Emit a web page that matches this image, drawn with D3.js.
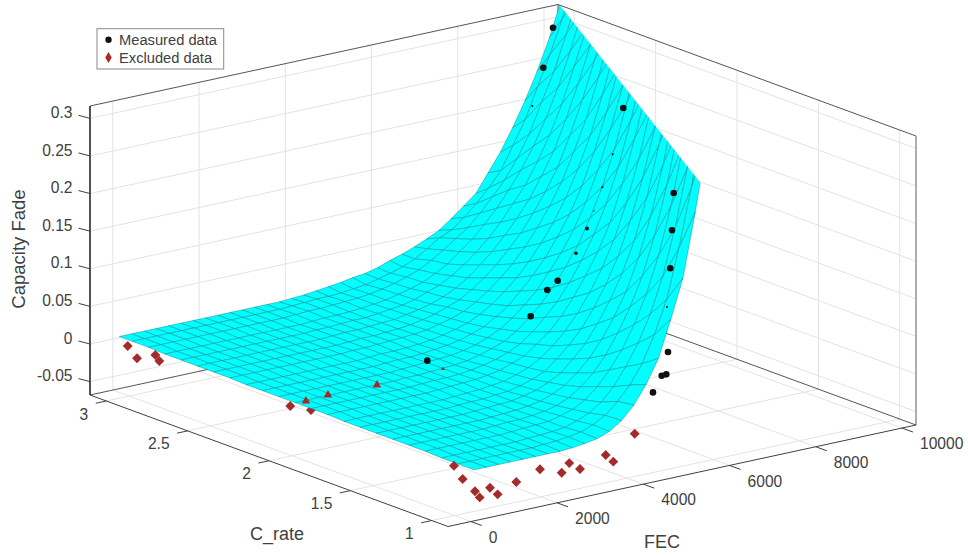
<!DOCTYPE html>
<html>
<head>
<meta charset="utf-8">
<script src="https://cdn.jsdelivr.net/npm/d3@7"></script>
<style>
  html, body { margin: 0; padding: 0; background: #fff; }
  text { font-family: "Liberation Sans", Arial, sans-serif; fill: #404040; }
</style>
</head>
<body>
<svg id="chart" width="968" height="556"></svg>
<script>
// axis limits and ticks
const fecLim = [-530, 10325];
const crateLim = [0.9, 3.1];
const fadeLim = [-0.0678, 0.3164];
const fecTicks = [0, 2000, 4000, 6000, 8000, 10000];
const crateTicks = [1, 1.5, 2, 2.5, 3];
const crateTickLabels = ["1", "1.5", "2", "2.5", "3"];
const fadeTicks = [-0.05, 0, 0.05, 0.1, 0.15, 0.2, 0.25, 0.3];
const fadeTickLabels = ["-0.05", "0", "0.05", "0.1", "0.15", "0.2", "0.25", "0.3"];

// surface: one column per C_rate, one entry per FEC row
const surfaceFec = [75, 360, 645, 930, 1215, 1500, 1785, 2070, 2355, 2640, 2925, 3210, 3495, 3780, 4065, 4350, 4635, 4920, 5205, 5490, 5775, 6060, 6345, 6630, 6915, 7200, 7485, 7770, 8055, 8340, 8625, 8910, 9195, 9480, 9765, 10050, 10335];
const surfaceCrate = [0.9, 1.0, 1.1, 1.2, 1.3, 1.4, 1.5, 1.6, 1.7, 1.8, 1.9, 2.0, 2.1, 2.2, 2.3, 2.4, 2.5, 2.6, 2.7, 2.8, 2.9, 3.0, 3.08];
const surfaceFade = [
  [0,0,0,0,0,0,0,0,.001,.003,.006,.012,.023,.040,.064,.095,.143,.195,.279,.374,.487,.62],
  [0,0,0,0,0,0,0,.001,.002,.004,.007,.013,.022,.037,.055,.080,.115,.158,.223,.299,.391,.502,.63],
  [0,0,0,0,0,0,0,.001,.002,.003,.005,.010,.017,.028,.045,.068,.096,.131,.177,.238,.314,.406,.516,.64],
  [.001,.001,.001,.001,.001,.001,.001,.002,.003,.004,.005,.009,.014,.023,.037,.056,.079,.109,.146,.194,.256,.334,.424,.53],
  [.001,.001,.001,.001,.001,.001,.001,.002,.003,.003,.005,.007,.011,.018,.029,.044,.064,.090,.121,.159,.209,.273,.349,.44,.54],
  [.001,.001,.001,.001,.001,.001,.001,.001,.002,.003,.004,.006,.009,.015,.023,.036,.052,.073,.099,.130,.171,.223,.287,.366,.455,.56],
  [.001,.001,.001,.001,.001,.001,.001,.001,.002,.003,.004,.005,.008,.012,.019,.028,.043,.060,.083,.110,.143,.183,.236,.303,.379,.468,.57],
  [.001,.001,.001,.001,.001,.001,.001,.001,.002,.003,.003,.005,.006,.010,.015,.022,.035,.050,.068,.092,.120,.154,.198,.251,.315,.392,.485,.58],
  [.001,.001,.001,.001,.001,.001,.001,.001,.001,.002,.003,.004,.006,.008,.013,.019,.028,.041,.057,.077,.101,.130,.165,.210,.264,.330,.405,.49,.59],
  [.002,.002,.002,.002,.002,.002,.002,.002,.002,.003,.004,.005,.006,.008,.011,.017,.023,.035,.048,.065,.087,.112,.141,.176,.224,.281,.344,.419,.50,.60],
  [.002,.002,.002,.002,.002,.002,.002,.002,.002,.003,.004,.004,.005,.007,.010,.014,.020,.028,.040,.056,.073,.095,.121,.152,.189,.235,.293,.358,.43,.51,.61],
  [.002,.002,.002,.002,.002,.002,.002,.002,.002,.003,.003,.004,.005,.006,.008,.012,.017,.023,.033,.046,.062,.081,.104,.129,.162,.200,.247,.305,.371,.44,.52],
  [.002,.002,.002,.002,.002,.002,.002,.002,.002,.002,.003,.004,.005,.006,.007,.010,.014,.020,.028,.039,.053,.069,.090,.112,.139,.172,.212,.262,.316,.38,.46,.53],
  [.002,.002,.002,.002,.002,.002,.002,.002,.002,.002,.003,.004,.004,.005,.007,.009,.012,.017,.023,.033,.044,.060,.077,.097,.121,.148,.182,.224,.273,.329,.393,.467,.54],
  [.002,.002,.002,.002,.002,.002,.002,.002,.002,.002,.003,.004,.004,.005,.006,.008,.011,.015,.020,.028,.038,.051,.066,.084,.105,.129,.158,.193,.234,.285,.341,.404,.48,.55],
  [.003,.003,.003,.003,.003,.003,.003,.003,.003,.003,.004,.004,.005,.006,.007,.008,.010,.014,.018,.024,.033,.044,.058,.073,.092,.114,.139,.168,.205,.245,.297,.353,.415,.49,.56],
  [.003,.003,.003,.003,.003,.003,.003,.003,.003,.003,.003,.004,.005,.005,.006,.007,.009,.012,.016,.022,.028,.038,.050,.064,.081,.099,.122,.147,.176,.215,.258,.308,.364,.426,.50,.57],
  [.003,.003,.003,.003,.003,.003,.003,.003,.003,.003,.003,.004,.005,.005,.006,.007,.008,.011,.014,.018,.024,.032,.042,.056,.070,.088,.107,.129,.156,.186,.225,.269,.317,.376,.437,.51,.58],
  [.003,.003,.003,.003,.003,.003,.003,.003,.003,.003,.003,.004,.004,.005,.006,.006,.008,.010,.012,.016,.022,.028,.037,.048,.061,.076,.094,.115,.136,.164,.196,.234,.280,.328,.385,.446,.51],
  [.003,.003,.003,.003,.003,.003,.003,.003,.003,.003,.003,.003,.004,.005,.005,.006,.007,.009,.011,.015,.019,.024,.032,.041,.054,.067,.083,.101,.122,.145,.173,.206,.244,.289,.340,.394,.457],
  [.004,.004,.004,.004,.004,.004,.004,.004,.004,.004,.004,.004,.005,.006,.006,.007,.008,.009,.011,.014,.018,.023,.029,.038,.048,.060,.071,.087,.105,.124,.149,.178,.217,.254,.300,.350,.404],
  [.004,.004,.004,.004,.004,.004,.004,.004,.004,.004,.004,.004,.004,.005,.006,.007,.007,.008,.010,.012,.016,.020,.025,.032,.042,.053,.060,.073,.088,.105,.125,.155,.186,.226,.265,.309,.360],
  [.004,.004,.004,.004,.004,.004,.004,.004,.004,.004,.004,.004,.004,.004,.005,.006,.008,.010,.012,.015,.017,.021,.027,.032,.038,.045,.053,.065,.078,.091,.115,.139,.168,.200,.236,.277,.325]
];
// where the surface leaves the top of the z range
const topCutFec = [5323, 10302];
const topCutCrate = [0.9, 3.08];

// measured points
const measuredFec = [10021, 9796, 9541, 7876, 7630, 7389, 7197, 7034, 6779, 6354, 6113, 5728, 3330, 5271, 5232, 5192, 5116, 5139, 5099, 4993, 4791];
const measuredCrate = [3.05, 3.05, 3.05, 2.05, 2.05, 2.05, 2.05, 2.05, 2.05, 2.05, 2.05, 2.05, 2.05, 1.05, 1.05, 1.05, 1.05, 1.05, 1.05, 1.05, 1.05];
const measuredFade = [0.2933, 0.2429, 0.1951, 0.2927, 0.2343, 0.1935, 0.1643, 0.1428, 0.1133, 0.082, 0.0727, 0.0425, 0.0133, 0.2915, 0.2424, 0.1924, 0.1419, 0.0818, 0.0526, 0.0521, 0.0324];

// excluded points
const excludedFec = [156, 372, 797, 890, 152, 516, 632, 1027, 2163, 3694, 175, 376, 662, 771, 1010, 1188, 1620, 2170, 2673, 2849, 3098, 3694, 3870, 4367];
const excludedCrate = [3.05, 3.05, 3.05, 3.05, 2.05, 2.05, 2.05, 2.05, 2.05, 2.05, 1.05, 1.05, 1.05, 1.05, 1.05, 1.05, 1.05, 1.05, 1.05, 1.05, 1.05, 1.05, 1.05, 1.05];
const excludedFade = [-0.0072, -0.0262, -0.0271, -0.0363, -0.0074, -0.0053, -0.0187, -0.0037, -0.0045, -0.0023, -0.0077, -0.0279, -0.0477, -0.0572, -0.0473, -0.0583, -0.0473, -0.0372, -0.0481, -0.0374, -0.0484, -0.0372, -0.0482, -0.0173];

// markers that poke only partly through the surface in the picture
const measuredSliver = new Map([[2, 1], [4, 1], [5, 1.1], [6, 0.7], [7, 2], [8, 1.8], [16, 1]]);
const excludedPoking = new Map([[5, 32], [7, 32], [8, 32], [9, 6]]);
const excludedBelow = [6];

const svg = d3.select("#chart");

// fixed view: orthographic projection of the box on to the page
const originX = 448, originY = 526.5;
const fecX = d3.scaleLinear().domain(fecLim).range([0, 468]);
const fecY = d3.scaleLinear().domain(fecLim).range([0, -101.5]);
const crateX = d3.scaleLinear().domain(crateLim).range([0, -358]);
const crateY = d3.scaleLinear().domain(crateLim).range([0, -131.5]);
const fadeY = d3.scaleLinear().domain(fadeLim).range([0, -289]);

function project(fec, crate, fade) {
    return [originX + fecX(fec) + crateX(crate), originY + fecY(fec) + crateY(crate) + fadeY(fade)];
}

let lineGen = d3.line();

function edge(g, a, b, color, width) {
    g.append("path").attr("d", lineGen([a, b])).attr("fill", "none")
        .attr("stroke", color).attr("stroke-width", width);
}

let [fMin, fMax] = fecLim, [cMin, cMax] = crateLim, [zMin, zMax] = fadeLim;

// grid on floor and back walls
let grid = svg.append("g").attr("id", "grid");
let gridColor = "#e3e3e3";
for (let f of fecTicks) {
    edge(grid, project(f, cMin, zMin), project(f, cMax, zMin), gridColor, 1);
    edge(grid, project(f, cMax, zMin), project(f, cMax, zMax), gridColor, 1);
}
for (let c of crateTicks) {
    edge(grid, project(fMin, c, zMin), project(fMax, c, zMin), gridColor, 1);
    edge(grid, project(fMax, c, zMin), project(fMax, c, zMax), gridColor, 1);
}
for (let z of fadeTicks) {
    edge(grid, project(fMin, cMax, z), project(fMax, cMax, z), gridColor, 1);
    edge(grid, project(fMax, cMax, z), project(fMax, cMin, z), gridColor, 1);
}

// box outline
let box = svg.append("g").attr("id", "box");
edge(box, project(fMin, cMax, zMin), project(fMax, cMax, zMin), "#555", 1);
edge(box, project(fMax, cMax, zMin), project(fMax, cMin, zMin), "#555", 1);
edge(box, project(fMin, cMax, zMax), project(fMax, cMax, zMax), "#555", 1);
edge(box, project(fMax, cMax, zMax), project(fMax, cMin, zMax), "#555", 1);
edge(box, project(fMax, cMax, zMin), project(fMax, cMax, zMax), "#555", 1);
edge(box, project(fMax, cMin, zMin), project(fMax, cMin, zMax), "#777", 1.2);
edge(box, project(fMin, cMax, zMin), project(fMin, cMax, zMax), "#404040", 1.8);
edge(box, project(fMin, cMin, zMin), project(fMin, cMax, zMin), "#404040", 1);
edge(box, project(fMin, cMin, zMin), project(fMax, cMin, zMin), "#404040", 1);

// markers the surface covers from above
let red = "#a52a2a";
let diamond = d3.symbol().type(d3.symbolDiamond2).size(62);
svg.append("g").attr("id", "excluded-below").selectAll("path")
    .data(excludedBelow)
    .join("path")
    .attr("d", diamond)
    .attr("fill", red)
    .attr("transform", i => "translate(" + project(excludedFec[i], excludedCrate[i], excludedFade[i]) + ")");

// surface: far cells first, cut off at the top of the z range
let a = project(topCutFec[1], topCutCrate[1], zMax);
let b = project(topCutFec[0], topCutCrate[0], zMax);
let dx = b[0] - a[0], dy = b[1] - a[1];
let cutPoly = [[a[0] - 0.2 * dx, a[1] - 0.2 * dy], [b[0] + 0.4 * dx, b[1] + 0.4 * dy], [b[0] + 0.4 * dx, 556], [0, 556], [0, a[1] - 0.2 * dy]];
svg.append("clipPath").attr("id", "top-cut").append("path").attr("d", lineGen(cutPoly) + "Z");

let cells = [];
for (let j = surfaceFec.length - 2; j >= 0; j--) {
    for (let i = surfaceCrate.length - 2; i >= 0; i--) {
        let corners = [[i, j], [i + 1, j], [i + 1, j + 1], [i, j + 1]];
        if (corners.every(([ci, rj]) => surfaceFade[ci][rj] !== undefined)) {
            cells.push(corners.map(([ci, rj]) => project(surfaceFec[rj], surfaceCrate[ci], surfaceFade[ci][rj])));
        }
    }
}
svg.append("g").attr("id", "surface").attr("clip-path", "url(#top-cut)")
    .selectAll("path")
    .data(cells)
    .join("path")
    .attr("d", d => lineGen(d) + "Z")
    .attr("fill", "#00ffff")
    .attr("stroke", "#0f8f95")
    .attr("stroke-width", 0.5);

// measured markers
svg.append("g").attr("id", "measured").selectAll("circle")
    .data(d3.range(measuredFec.length))
    .join("circle")
    .attr("cx", i => project(measuredFec[i], measuredCrate[i], measuredFade[i])[0])
    .attr("cy", i => project(measuredFec[i], measuredCrate[i], measuredFade[i])[1])
    .attr("r", i => measuredSliver.has(i) ? measuredSliver.get(i) : 3.3)
    .attr("fill", "#111");

// excluded markers, some only showing their top corner
let triangle = d3.symbol().type(d3.symbolTriangle);
svg.append("g").attr("id", "excluded").selectAll("path")
    .data(d3.range(excludedFec.length).filter(i => !excludedBelow.includes(i)))
    .join("path")
    .attr("d", i => excludedPoking.has(i) ? triangle.size(excludedPoking.get(i))() : diamond())
    .attr("fill", red)
    .attr("transform", i => "translate(" + project(excludedFec[i], excludedCrate[i], excludedFade[i]) + ")");

// ticks and tick labels
let labels = svg.append("g").attr("id", "axes");
let tickColor = "#404040";
fadeTicks.forEach((z, n) => {
    let p = project(fMin, cMax, z);
    edge(labels, p, [p[0] - 11.5, p[1] - 3], tickColor, 1);
    labels.append("text").text(fadeTickLabels[n])
        .attr("x", 72.5).attr("y", p[1] - 6).attr("dy", "0.36em")
        .attr("text-anchor", "end").style("font-size", "15.6px");
});
fecTicks.forEach(f => {
    let p = project(f, cMin, zMin);
    edge(labels, p, [p[0] + 11, p[1] + 4], tickColor, 1);
    labels.append("text").text(f)
        .attr("x", p[0] + 18).attr("y", p[1] + 15.5).attr("dy", "0.36em")
        .style("font-size", "15.6px");
});
crateTicks.forEach((c, n) => {
    let p = project(fMin, c, zMin);
    edge(labels, p, [p[0] - 10.5, p[1] + 2.3], tickColor, 1);
    labels.append("text").text(crateTickLabels[n])
        .attr("x", p[0] - 18).attr("y", p[1] + 13).attr("dy", "0.36em")
        .attr("text-anchor", "end").style("font-size", "15.6px");
});

// axis titles
labels.append("text").text("FEC").attr("x", 662).attr("y", 542).attr("dy", "0.36em")
    .attr("text-anchor", "middle").style("font-size", "18px");
labels.append("text").text("C_rate").attr("x", 277).attr("y", 534).attr("dy", "0.36em")
    .attr("text-anchor", "middle").style("font-size", "18px");
labels.append("text").text("Capacity Fade").attr("text-anchor", "middle")
    .attr("transform", "translate(18,249) rotate(-90)").attr("dy", "0.36em")
    .style("font-size", "18.5px");

// legend
let legend = svg.append("g").attr("id", "legend");
legend.append("rect").attr("x", 97).attr("y", 28.7).attr("width", 126.7).attr("height", 40.3)
    .attr("fill", "#fff").attr("stroke", "#8a8a8a").attr("stroke-width", 1);
legend.append("circle").attr("cx", 108.5).attr("cy", 39.7).attr("r", 3.2).attr("fill", "#111");
legend.append("path").attr("d", d3.symbol().type(d3.symbolDiamond).size(36)())
    .attr("transform", "translate(108.5,57.5)").attr("fill", red);
legend.append("text").text("Measured data").attr("x", 119).attr("y", 39.7).attr("dy", "0.36em").style("font-size", "14.7px");
legend.append("text").text("Excluded data").attr("x", 119).attr("y", 57.5).attr("dy", "0.36em").style("font-size", "14.7px");
</script>
</body>
</html>
